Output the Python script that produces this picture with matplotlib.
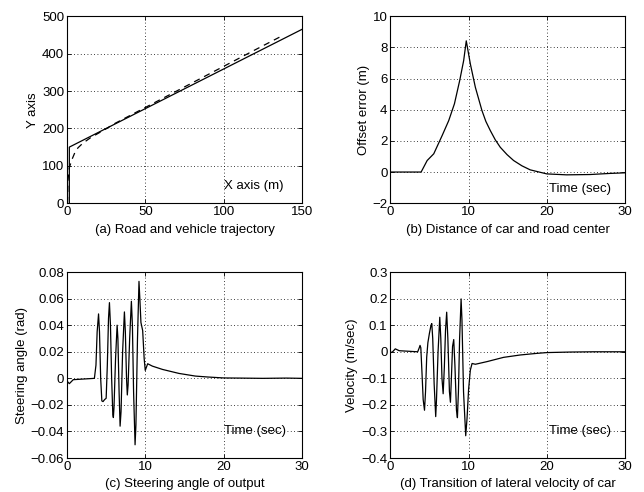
import numpy as np
import matplotlib
matplotlib.use('Agg')
import matplotlib.pyplot as plt
from matplotlib.ticker import FuncFormatter

plt.rcParams['font.family'] = ['Liberation Sans', 'DejaVu Sans']
plt.rcParams['font.size'] = 9.5

# (a) road and vehicle trajectory
road_x = [1.5, 1.5, 150]
road_y = [0, 150, 465]
veh_x = [0.3, 0.6, 1.5, 3, 5, 7, 10, 15, 20, 25, 30, 40, 50, 60, 70, 80, 90, 100, 110, 120, 137]
veh_y = [0, 60, 95, 115, 135, 148, 160, 175, 187, 199, 212, 234, 256, 278, 300, 322, 344, 366, 388, 410, 447]

# (b) offset error
off_t = [0, 3.94, 4.71, 5.55, 6.62, 7.46, 8.19, 8.86, 9.37, 9.7,
         10.22, 10.86, 11.7, 12.2, 12.77, 13.4, 14.04, 14.9, 15.74, 16.8, 17.86, 19.98, 22.5, 25.5, 28, 30]
off_y = [0, 0, 0.74, 1.17, 2.34, 3.3, 4.38, 5.87, 7.16, 8.42,
         6.94, 5.44, 3.95, 3.25, 2.66, 2.07, 1.59, 1.12, 0.74, 0.4, 0.14, -0.12, -0.18, -0.16, -0.09, -0.05]

# (c) steering angle
st_t = [0, 0.3, 0.8, 3.5, 3.7, 3.85, 4.03, 4.15, 4.3, 4.45, 4.6, 4.8, 5.0, 5.15, 5.3, 5.42, 5.55, 5.7,
        5.85, 5.92, 6.0, 6.2, 6.4, 6.5, 6.65, 6.78, 6.9, 7.1, 7.33, 7.45, 7.6, 7.7, 7.8, 8.0, 8.22,
        8.35, 8.5, 8.69, 8.8, 9.0, 9.19, 9.3, 9.44, 9.66, 9.85, 9.99, 10.3, 10.9, 12.2, 14.3, 16.4,
        18, 20, 22, 25, 28, 30]
st_y = [-0.002, -0.004, -0.001, 0, 0.01, 0.035, 0.0485, 0.035, 0.0, -0.017, -0.0175, -0.016, -0.015,
        0.01, 0.045, 0.057, 0.04, 0.0, -0.027, -0.0295, -0.022, 0.015, 0.040, 0.03, -0.01, -0.036,
        -0.025, 0.02, 0.050, 0.035, 0.0, -0.0125, -0.005, 0.03, 0.058, 0.04, -0.01, -0.050, -0.035,
        0.03, 0.073, 0.06, 0.042, 0.036, 0.015, 0.006, 0.011, 0.0092, 0.0067, 0.0037, 0.0017,
        0.001, 0.0003, 0.0002, 0.0, 0.0002, 0.0]

# (d) lateral velocity
vel_t = [0, 0.3, 0.64, 1.15, 3.5, 3.7, 3.8, 3.9, 4.05, 4.2, 4.37, 4.5, 4.65, 4.8, 5.0, 5.2, 5.3,
         5.42, 5.6, 5.8, 5.9, 6.1, 6.32, 6.45, 6.6, 6.75, 6.9, 7.05, 7.2, 7.35, 7.55, 7.68, 7.8,
         7.95, 8.1, 8.25, 8.45, 8.57, 8.7, 8.85, 9.04, 9.15, 9.35, 9.63, 9.8, 10.0, 10.22, 10.44,
         10.86, 12.35, 14.46, 16.6, 18.7, 20, 22.95, 26, 30]
vel_y = [-0.004, 0.0, 0.011, 0.004, 0.0, 0.015, 0.024, 0.015, -0.08, -0.18, -0.22, -0.15, -0.02,
         0.034, 0.07, 0.10, 0.106, 0.05, -0.12, -0.244, -0.18, 0.0, 0.13, 0.05, -0.10, -0.158,
         -0.06, 0.08, 0.149, 0.05, -0.15, -0.19, -0.10, 0.02, 0.046, -0.05, -0.22, -0.248, -0.15,
         0.05, 0.199, 0.12, -0.15, -0.316, -0.25, -0.14, -0.069, -0.044,
         -0.047, -0.037, -0.021, -0.012, -0.006, -0.003, -0.001, 0.0, 0.0]


def fmt(v, pos):
    if abs(v) < 1e-12:
        return '0'
    return ('%g' % round(v, 6)).replace('-', '\u2212')


def style(ax):
    ax.grid(True, linestyle=(0, (1, 3)), color='black', linewidth=0.6)
    ax.tick_params(direction='in', length=3, top=True, right=True, width=0.6, pad=2)
    ax.yaxis.set_major_formatter(FuncFormatter(fmt))
    ax.xaxis.set_major_formatter(FuncFormatter(fmt))
    for s in ax.spines.values():
        s.set_linewidth(0.8)


fig = plt.figure(figsize=(6.44, 4.92), dpi=100)
w = 0.365
h = 0.38
axa = fig.add_axes([0.104, 0.587, w, h])
axb = fig.add_axes([0.606, 0.587, w, h])
axc = fig.add_axes([0.104, 0.069, w, 0.378])
axd = fig.add_axes([0.606, 0.069, w, 0.378])

axa.plot(road_x, road_y, 'k-', lw=0.9)
axa.plot(veh_x, veh_y, 'k--', lw=0.9, dashes=(5, 4))
axa.set_xlim(0, 150)
axa.set_ylim(0, 500)
axa.set_xticks([0, 50, 100, 150])
axa.set_yticks([0, 100, 200, 300, 400, 500])
axa.set_ylabel('Y axis', labelpad=2)
axa.set_xlabel('(a) Road and vehicle trajectory', labelpad=4)
axa.text(100, 47, 'X axis (m)', ha='left', va='center')
style(axa)

axb.plot(off_t, off_y, 'k-', lw=0.9)
axb.set_xlim(0, 30)
axb.set_ylim(-2, 10)
axb.set_xticks([0, 10, 20, 30])
axb.set_yticks([-2, 0, 2, 4, 6, 8, 10])
axb.set_ylabel('Offset error (m)', labelpad=2)
axb.set_xlabel('(b) Distance of car and road center', labelpad=4)
axb.text(20.2, -1.08, 'Time (sec)', ha='left', va='center')
style(axb)

axc.plot(st_t, st_y, 'k-', lw=0.9)
axc.set_xlim(0, 30)
axc.set_ylim(-0.06, 0.08)
axc.set_xticks([0, 10, 20, 30])
axc.set_yticks([-0.06, -0.04, -0.02, 0, 0.02, 0.04, 0.06, 0.08])
axc.set_ylabel('Steering angle (rad)', labelpad=2)
axc.set_xlabel('(c) Steering angle of output', labelpad=4)
axc.text(20.1, -0.04, 'Time (sec)', ha='left', va='center')
style(axc)

axd.plot(vel_t, vel_y, 'k-', lw=0.9)
axd.set_xlim(0, 30)
axd.set_ylim(-0.4, 0.3)
axd.set_xticks([0, 10, 20, 30])
axd.set_yticks([-0.4, -0.3, -0.2, -0.1, 0, 0.1, 0.2, 0.3])
axd.set_ylabel('Velocity (m/sec)', labelpad=2)
axd.set_xlabel('(d) Transition of lateral velocity of car', labelpad=4)
axd.text(20.2, -0.3, 'Time (sec)', ha='left', va='center')
style(axd)

fig.savefig('out.png', dpi=100)
